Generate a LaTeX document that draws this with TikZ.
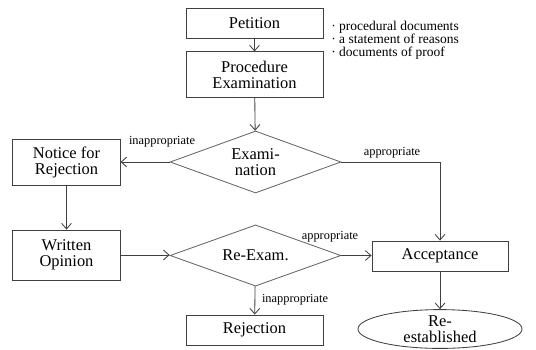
\documentclass[tikz,border=0pt]{standalone}
\usepackage{fontspec}
\setmainfont{Liberation Serif}
\newfontfamily\tnr{Liberation Serif}
\usetikzlibrary{shapes.geometric,arrows.meta}

\tikzset{
  box/.style={draw=black!75,line width=0.6pt,minimum width=3.42cm,inner sep=0pt,align=center,font=\tnr\fontsize{11.7}{11.5}\selectfont},
  dia/.style={draw=black!60,line width=0.6pt,diamond,aspect=2.76,inner sep=0pt,minimum width=4.27cm,minimum height=1.55cm,align=center,font=\tnr\fontsize{11.7}{11.5}\selectfont},
  lab/.style={font=\tnr\fontsize{8.8}{9}\selectfont,inner sep=0pt},
  arr/.style={->,draw=black!75,line width=0.6pt}
}

\begin{document}
\begin{tikzpicture}[x=0.025cm,y=-0.025cm,>={Straight Barb[length=4pt,width=7pt]}]
            \useasboundingbox (0,0) rectangle (536,349);
            % boxes
            \node[box,minimum height=0.73cm] (pet) at (254.5,23.5) {Petition};
            \node[box,minimum height=1.13cm] (proc) at (254.5,74.5) {Procedure\\Examination};
            \node[dia] (exam) at (255.5,162) {Exami-\\nation};
            \node[box,minimum width=2.68cm,minimum height=1.13cm] (notice) at (66.5,162.5) {Notice for\\Rejection};
            \node[box,minimum width=2.68cm,minimum height=1.25cm] (written) at (66.5,255) {Written\\Opinion};
            \node[dia,minimum height=1.53cm] (reexam) at (255.5,255.5) {Re-Exam.};
            \node[box,minimum width=3.4cm,minimum height=0.75cm] (accept) at (440,256) {Acceptance};
            \node[box,minimum height=0.75cm] (reject) at (254.5,330) {Rejection};
            \node[box,ellipse,minimum width=4.1cm,minimum height=0.97cm] (reest) at (440,329) {Re-\\established};
            % notes
            \node[anchor=west,align=left,inner sep=0pt,font=\tnr\fontsize{9.6}{9.2}\selectfont] (notes) at (331,40)
              {· procedural documents\\· a statement of reasons\\· documents of proof};
            % labels
            \node[lab] (l1) at (162,142) {inappropriate};
            \node[lab] (l2) at (392,153) {appropriate};
            \node[lab] (l3) at (330,237) {appropriate};
            \node[lab] (l4) at (295,300) {inappropriate};
            % arrows
            \draw[arr] (pet) -- (proc);
            \draw[arr] (proc) -- (exam);
            \draw[arr] (exam.west) -- (exam.west -| notice.east);
            \draw[arr] (exam.east) -| (accept.north);
            \draw[arr] (notice) -- (written);
            \draw[arr] (written.east) -- (written.east -| reexam.west);
            \draw[arr] (reexam.east) -- (reexam.east -| accept.west);
            \draw[arr] (reexam) -- (reject);
            \draw[arr] (accept) -- (reest);
        \end{tikzpicture}
\end{document}
